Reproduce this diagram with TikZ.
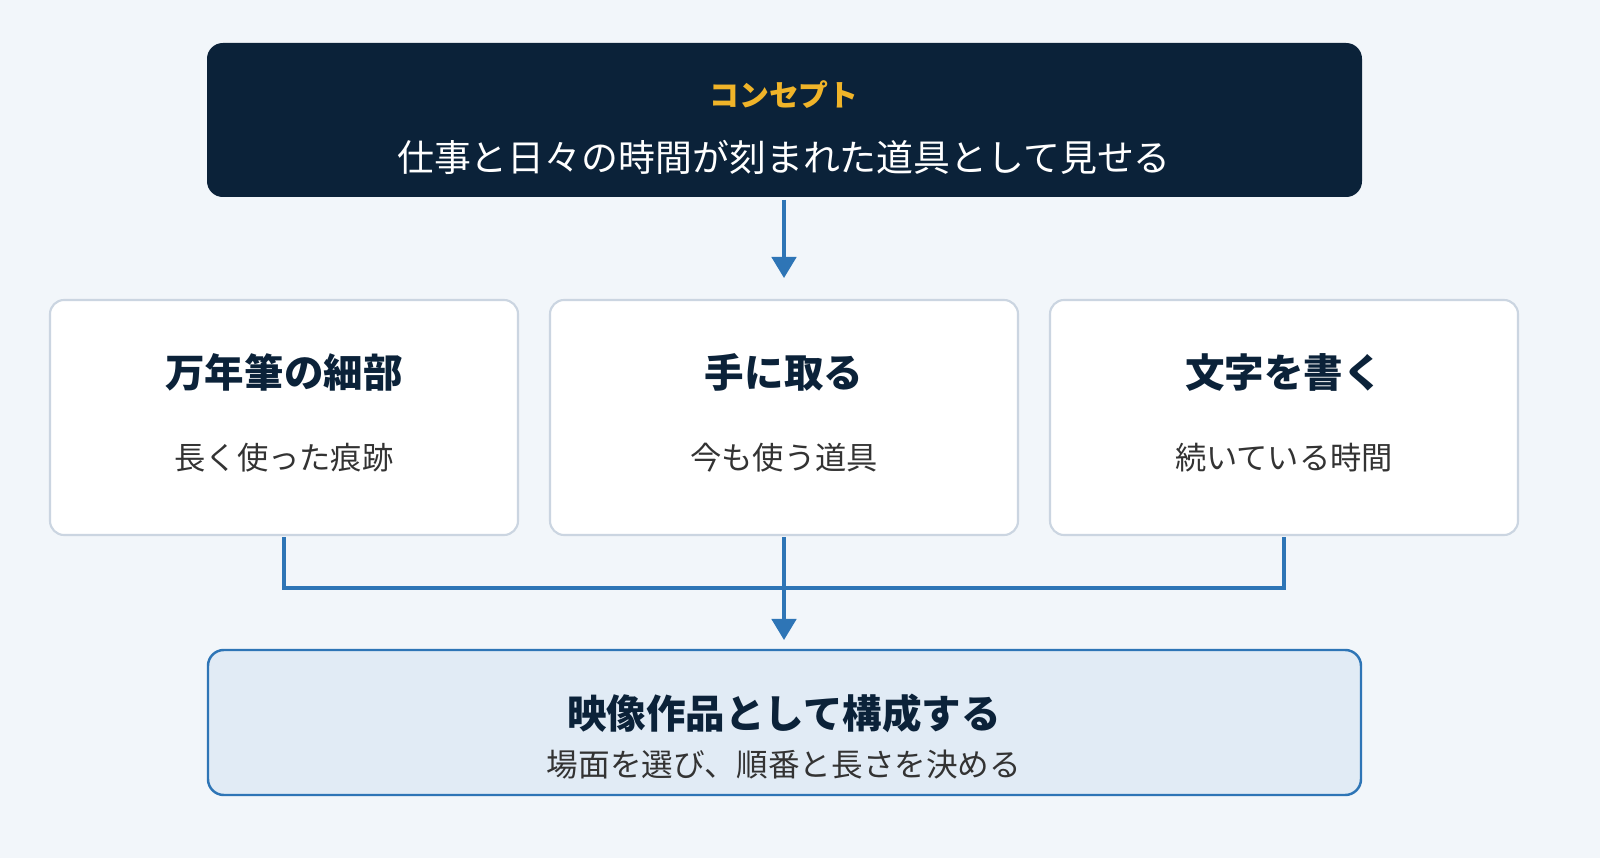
\documentclass[tikz,border=0pt]{standalone}
\usepackage{fontspec}
\setmainfont{Noto Sans CJK JP}
\usetikzlibrary{arrows.meta}
\definecolor{bg}{HTML}{F2F6FA}
\definecolor{navy}{HTML}{0B2239}
\definecolor{gold}{HTML}{F0B429}
\definecolor{gborder}{HTML}{CBD5E1}
\definecolor{blue}{HTML}{2E75B6}
\definecolor{lblue}{HTML}{E1EBF5}
\definecolor{txt}{HTML}{333333}
\begin{document}
\begin{tikzpicture}[x=0.02cm,y=-0.02cm,
  card/.style={draw=gborder,line width=1.2pt,fill=white,rounded corners=8pt},
  ttl/.style={font=\fontsize{22.5}{26}\selectfont\bfseries,text=navy},
  sub/.style={font=\fontsize{17.8}{21}\selectfont,text=txt},
  conn/.style={draw=blue,line width=1.8pt},
  arr/.style={conn,-{Triangle[length=12pt,width=14pt]}}]
\fill[bg] (0,0) rectangle (1600,858);
\useasboundingbox (0,0) rectangle (1600,858);
\fill[navy,rounded corners=9pt] (207,43) rectangle (1362,197);
\node[font=\fontsize{17}{20}\selectfont\bfseries,text=gold] (cl) at (784,95) {コンセプト};
\node[font=\fontsize{21}{24}\selectfont,text=white] (ct) at (784,157) {仕事と日々の時間が刻まれた道具として見せる};
\coordinate (top) at (784,200);
\coordinate (topend) at (784,278);
\draw[arr] (top) -- (topend);
\foreach \x/\t/\s in {284/万年筆の細部/長く使った痕跡, 784/手に取る/今も使う道具, 1284/文字を書く/続いている時間}{
  \draw[card] (\x-234,300) rectangle (\x+234,535);
  \node[ttl] at (\x,372) {\t};
  \node[sub] at (\x,458) {\s};
}
\coordinate (l) at (284,537); \coordinate (m) at (784,537); \coordinate (r) at (1284,537);
\draw[conn] (l) |- (784,588) -| (r);
\draw[arr] (m) -- (784,640);
\draw[draw=blue,line width=1.4pt,fill=lblue,rounded corners=9pt] (208,650) rectangle (1361,795);
\node[ttl] (bt) at (784,713) {映像作品として構成する};
\node[sub,font=\fontsize{18}{21}\selectfont] (bs) at (784,765) {場面を選び、順番と長さを決める};
\end{tikzpicture}
\end{document}
